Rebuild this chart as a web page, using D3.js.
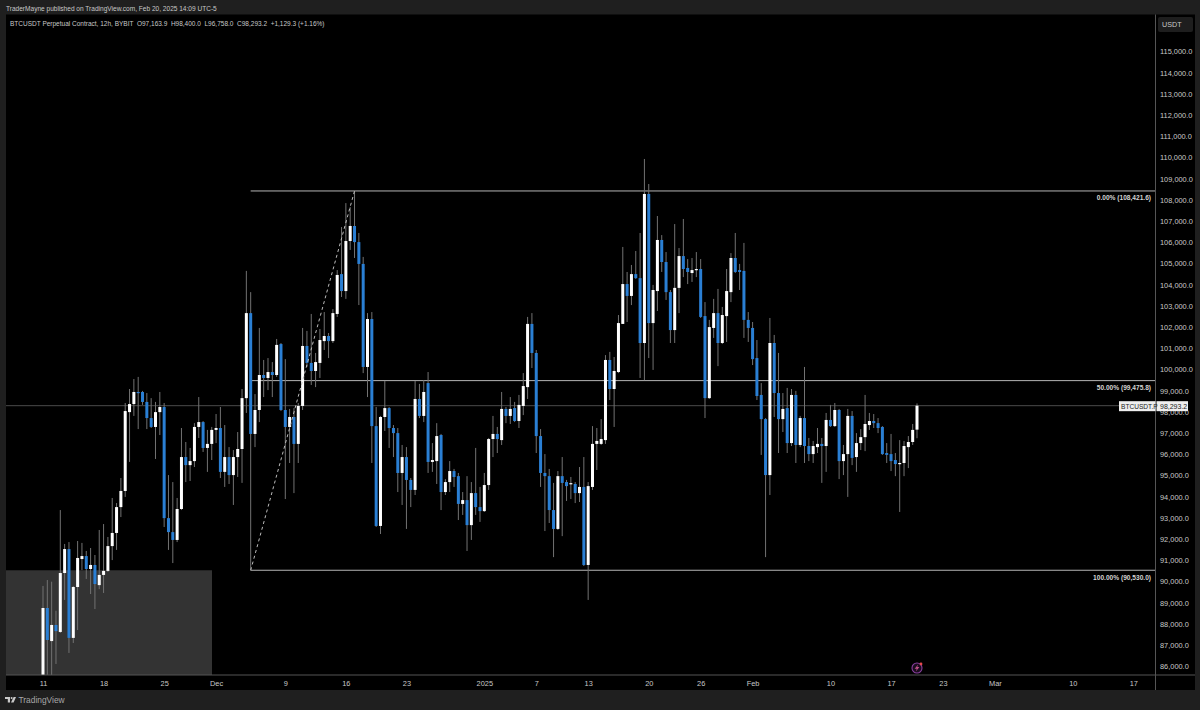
<!DOCTYPE html>
<html><head><meta charset="utf-8">
<script src="https://cdnjs.cloudflare.com/ajax/libs/d3/7.8.5/d3.min.js"></script>
<style>html,body{margin:0;padding:0;background:#1f1f1f;overflow:hidden}svg{display:block;font-family:"Liberation Sans",Arial,sans-serif}</style>
</head><body><svg id="c" width="1200" height="710"></svg>
<script>
const startDate = Date.UTC(2024,10,11);
const opens=[84880,88750,87190,87950,87620,90400,91530,87340,89740,91060,91200,90590,90780,89830,90310,90500,91670,92290,93510,94270,97990,98370,98940,98940,98470,97710,97290,97990,98230,92990,92330,91960,93420,95870,95490,95680,97290,97520,96300,96490,97150,97240,95170,95870,95020,95870,96250,98650,102660,96960,98090,99740,99600,99880,99740,101200,98090,97290,97760,96490,98280,101110,100310,99930,100310,101340,101580,101340,102620,104500,103700,106060,106770,106010,104980,100120,102380,97330,92620,97760,98180,97240,97000,95120,95870,94790,94320,98610,97810,99360,95640,95680,96910,94220,94690,95210,94970,93660,93840,92660,94170,93510,93320,94550,96720,96960,96670,98140,97810,98180,97570,98280,99170,102150,100780,96860,95120,94970,93370,92480,94970,94690,94600,94600,94170,94460,90780,94460,96490,96490,96670,100450,99080,99880,102150,104030,103470,104500,104310,101250,108280,102190,103700,106110,105070,103650,101860,103850,105350,104790,104550,104690,104740,102520,98650,101960,102660,101250,102520,103650,105260,104690,104650,102340,101960,100540,98800,97660,95020,101250,98890,97660,98180,96530,98800,96440,97710,96390,96010,96340,96490,96390,97620,97330,98090,95680,96010,97810,95870,96530,96810,97380,97570,97470,97290,96060,96010,95730,95540,95590,96340,96580,97164];
const highs=[89790,90070,89990,88620,93370,91770,91860,89790,91910,91820,91440,91580,91250,92430,92710,92100,93940,93700,94880,98420,99080,99550,99650,98990,98890,98650,98470,98940,98420,95020,94690,93940,97240,96580,96300,97470,98700,97570,97150,97290,97900,98230,97380,96340,96200,97050,99080,104650,103650,98840,101960,100450,100540,100350,101440,101250,100490,98140,98180,98420,101960,101820,102620,100780,101910,102710,101720,102850,104690,106720,107850,107660,108420,106440,105310,102660,102710,98230,97810,99460,98230,97380,97240,96440,96340,94880,99460,99320,99500,99880,96530,97470,96960,94830,95680,95310,95120,94220,94970,94690,96300,94460,95120,96770,97810,97290,98940,98230,98700,98470,98800,99830,102480,102660,100920,97190,96010,95310,94650,95210,95870,94790,94930,94690,95400,95870,94690,97330,97240,97660,100680,100830,100590,102570,105780,104600,104930,105590,106440,109930,108750,103990,107240,106340,105540,103750,106860,105730,107100,105210,105260,105540,105210,103180,102340,103330,103800,102950,104740,105490,106440,104980,105970,102710,102240,101390,99360,97710,102430,101630,100780,98890,99130,99080,98990,97810,100120,96770,96630,97240,96770,97950,98330,98420,98140,96440,98140,98040,97000,97190,98800,97950,97900,97710,97330,96530,96960,96060,96670,96630,96860,97430,98400];
const lows=[84410,84800,85000,86110,87570,89130,86630,87100,87710,90540,90120,89410,88700,89640,89460,90450,91010,91490,93040,93990,95640,97810,97190,98330,97190,97240,95780,96910,92570,91490,90870,91860,93370,94690,94740,95400,96770,96110,95170,95730,96530,94880,94460,94600,93610,94930,94650,97950,90530,96340,97520,98700,99030,98700,99650,98040,93890,95590,94170,95590,98090,100120,99270,99170,99600,100920,100540,101250,102480,103420,103330,105640,105260,103040,99830,98700,95590,92570,92240,97100,96300,95870,94220,93610,92480,93510,94080,97710,97520,95120,95170,94600,93370,94080,94220,94460,92900,93140,91440,91960,93140,92810,93280,94320,95870,96060,96440,97470,97430,97520,97240,97850,98610,100070,96060,94460,92380,92760,91150,92430,92140,93800,93890,93700,93750,90730,89130,94320,95260,96440,96490,98560,97290,99830,102150,102240,103040,104270,99600,99500,100540,99980,102760,104600,103280,101250,101250,102660,104360,104030,104130,104360,102430,97710,98610,101490,100160,101200,101300,103180,104550,103750,101490,101300,100210,98560,95970,91150,94080,97760,96060,97050,96060,96390,95590,96340,95590,95680,95590,96060,94650,95170,97290,97290,94830,95020,93990,95490,95170,96200,96150,97150,97240,97000,95970,95590,95210,94970,93280,94970,95350,96440,96758];
const closes=[88750,87240,87950,87660,90400,91530,87340,89740,91110,91200,90590,90780,89880,90310,90500,91670,92290,93510,94270,98040,98370,98940,98900,98470,97710,97290,97990,98230,92990,92330,91960,93420,95870,95490,95680,97290,97520,96300,96490,97150,97240,95170,95870,95020,95870,96250,98650,102660,96960,98090,99740,99600,99880,99740,101160,98090,97290,97760,96490,98280,101110,100310,99930,100350,101390,101580,101340,102660,104460,103700,106060,106770,106010,104980,100120,102380,97330,92620,97760,98180,97240,97000,95120,95870,94790,94320,98610,97810,98940,95640,95730,96860,94220,94690,95210,94930,93660,93840,92660,94170,93510,93320,94550,96720,96960,96720,98140,97810,98140,97570,98330,99220,102150,100780,96860,95120,94970,93370,92480,94970,94650,94500,94640,94170,94460,90780,94500,96490,96630,96720,100450,99080,99930,102190,104030,103470,104500,104310,101250,108280,102190,103750,106110,105070,103650,101860,103850,105350,104740,104600,104690,104740,102480,98650,102000,102660,101250,102570,103700,105260,104600,104600,102340,101960,100490,98750,97660,95020,101250,98890,97660,98140,96530,98800,96440,97710,96390,96010,96390,96490,96390,97620,97330,98090,95680,96010,97810,95830,96530,96810,97430,97570,97470,97240,96010,95970,95680,95540,95590,96390,96580,97150,98293];
const priceTicks=d3.range(86000,116000,1000);
const dateTicks=[[2024,10,11,"11"],[2024,10,18,"18"],[2024,10,25,"25"],[2024,11,1,"Dec"],[2024,11,9,"9"],[2024,11,16,"16"],[2024,11,23,"23"],[2025,0,1,"2025"],[2025,0,7,"7"],[2025,0,13,"13"],[2025,0,20,"20"],[2025,0,26,"26"],[2025,1,1,"Feb"],[2025,1,10,"10"],[2025,1,17,"17"],[2025,1,23,"23"],[2025,2,1,"Mar"],[2025,2,10,"10"],[2025,2,17,"17"]];
const fibLevels=[["0.00% (108,421.6)",108421.6],["50.00% (99,475.8)",99475.8],["100.00% (90,530.0)",90530]];
const zoneTop=90530, lastClose=98293.2;
const titleText="TraderMayne published on TradingView.com, Feb 20, 2025 14:09 UTC-5";
const legendText="BTCUSDT Perpetual Contract, 12h, BYBIT  O97,163.9  H98,400.0  L96,758.0  C98,293.2  +1,129.3 (+1.16%)";

const H12=43200000, times=opens.map((_,i)=>startDate+i*H12);
const pane={l:6,r:1155,t:14.5,b:675};
const x=d3.scaleUtc().domain([new Date(startDate),new Date(Date.UTC(2025,1,20))]).range([43,917]);
const y=d3.scaleLinear().domain([115000,86000]).range([51.5,666.3]);
const svg=d3.select("#c");
svg.append("rect").attr("width",1200).attr("height",710).attr("fill","#1f1f1f");
svg.append("rect").attr("x",pane.l).attr("y",pane.t).attr("width",1195-pane.l).attr("height",690-pane.t).attr("fill","#000");
svg.append("defs").append("clipPath").attr("id","pc").append("rect").attr("x",pane.l).attr("y",pane.t).attr("width",pane.r-pane.l).attr("height",pane.b-pane.t);
const g=svg.append("g").attr("clip-path","url(#pc)");
g.append("rect").attr("x",pane.l).attr("y",y(zoneTop)).attr("width",206).attr("height",pane.b-y(zoneTop)).attr("fill","#333");
g.append("line").attr("x1",pane.l).attr("x2",pane.r).attr("y1",y(lastClose)).attr("y2",y(lastClose)).attr("stroke","#4a4a4a").attr("stroke-width",1);
const fibX=x(new Date(startDate+48*H12));
g.selectAll(".fib").data(fibLevels).join("line").attr("x1",fibX).attr("x2",pane.r)
 .attr("y1",d=>y(d[1])).attr("y2",d=>y(d[1])).attr("stroke","#b4b4b4").attr("stroke-width",1);
const idx=d3.range(opens.length);
g.selectAll(".w").data(idx).join("line").attr("x1",i=>x(times[i])).attr("x2",i=>x(times[i]))
 .attr("y1",i=>y(highs[i])).attr("y2",i=>y(lows[i])).attr("stroke","#727272").attr("stroke-width",1);
g.selectAll(".b").data(idx).join("rect").attr("x",i=>x(times[i])-1.5).attr("width",3)
 .attr("y",i=>y(Math.max(opens[i],closes[i])))
 .attr("height",i=>Math.max(1.2,Math.abs(y(opens[i])-y(closes[i]))))
 .attr("fill",i=>closes[i]>=opens[i]?"#fff":"#2a7fd4");
g.append("line").attr("x1",fibX).attr("y1",y(90530)).attr("x2",x(new Date(startDate+72*H12))).attr("y2",y(108421.6))
 .attr("stroke","#bdbdbd").attr("stroke-width",1).attr("stroke-dasharray","3 3");
g.selectAll(".fl").data(fibLevels).join("text").attr("x",1151).attr("y",d=>y(d[1])+9.5).attr("text-anchor","end")
 .attr("font-size",6.6).attr("font-weight","bold").attr("fill","#d4d4d4").text(d=>d[0]);
svg.append("line").attr("x1",pane.l).attr("x2",1195).attr("y1",pane.b).attr("y2",pane.b).attr("stroke","#555");
svg.append("line").attr("x1",pane.r+.5).attr("x2",pane.r+.5).attr("y1",pane.t).attr("y2",690).attr("stroke","#555");
const ax=svg.append("g").attr("transform","translate(0,675)").call(d3.axisBottom(x).tickSize(0).tickPadding(6)
 .tickValues(dateTicks.map(d=>new Date(Date.UTC(d[0],d[1],d[2]))))
 .tickFormat((d,i)=>dateTicks[i][3]));
ax.select(".domain").remove();
ax.selectAll("text").attr("font-size",7.4).attr("font-family","Liberation Sans").attr("fill","#c8c8c8");
const ay=svg.append("g").attr("transform","translate(1155,0)").call(d3.axisRight(y).tickSize(0).tickPadding(5)
 .tickValues(priceTicks).tickFormat(d3.format(",.1f")));
ay.select(".domain").remove();
ay.selectAll("text").attr("font-size",7.4).attr("font-family","Liberation Sans").attr("fill","#c8c8c8");
svg.append("rect").attr("x",1158).attr("y",17).attr("width",35).attr("height",15).attr("rx",2).attr("fill","#1e1e1e");
svg.append("text").attr("x",1162).attr("y",27).attr("font-size",7.2).attr("fill","#c8c8c8").text("USDT");
const ty=y(lastClose);
svg.append("rect").attr("x",1119).attr("y",ty-4.5).attr("width",36.5).attr("height",10).attr("fill","#eee");
svg.append("rect").attr("x",1156.5).attr("y",ty-4.5).attr("width",31.5).attr("height",10).attr("fill","#eee");
svg.append("text").attr("x",1121).attr("y",ty+3).attr("font-size",6.6).attr("fill","#222").text("BTCUSDT.P");
svg.append("text").attr("x",1160).attr("y",ty+3).attr("font-size",7).attr("fill","#222").text(d3.format(",.1f")(lastClose));
svg.append("text").attr("x",6).attr("y",10.5).attr("font-size",6.55).attr("fill","#c8c8c8").text(titleText);
svg.append("text").attr("x",10).attr("y",25.5).attr("font-size",6.5).attr("fill","#c8c8c8").style("white-space","pre").text(legendText);
const ic=svg.append("g").attr("transform","translate(917,668)");
ic.append("circle").attr("r",5).attr("fill","#1a0c1e").attr("stroke","#8a3fa0").attr("stroke-width",1.1);
ic.append("path").attr("d","M1.2,-3.4 L-2.4,0.7 L-0.2,0.7 L-1.2,3.4 L2.4,-0.9 L0.2,-0.9 Z").attr("fill","#c0508a");
ic.append("circle").attr("cx",4).attr("cy",-4).attr("r",1.4).attr("fill","#e5484d");
const lg=svg.append("g").attr("transform","translate(5,697)").attr("fill","#c8c8c8");
lg.append("path").attr("d","M0,0 H5 V5.5 H2.8 V2 H0 Z");
lg.append("circle").attr("cx",6.6).attr("cy",1).attr("r",1);
lg.append("path").attr("d","M8.6,0 H11 L8.6,5.5 H6 Z");
svg.append("text").attr("x",18.5).attr("y",703).attr("font-size",8.4).attr("fill","#a8a8a8").text("TradingView");
</script></body></html>
